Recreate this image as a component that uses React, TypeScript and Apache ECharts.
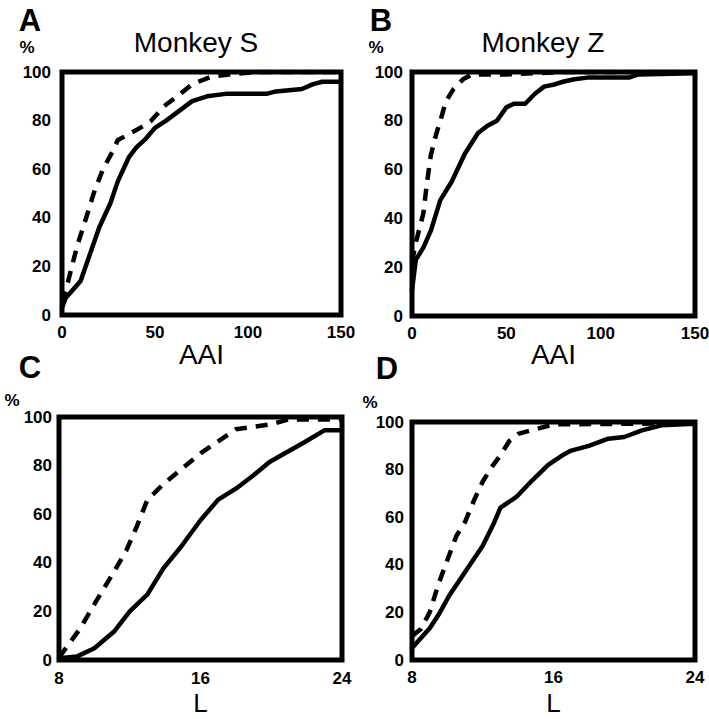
import React, { useEffect, useRef } from "react";
import * as echarts from "echarts";

// Panel A (Monkey S, AAI)
const aSolid: number[][] = [[0,3],[2,7],[10,14],[15,25],[20,36],[26,46],[30,55],[36,65],[40,69],[45,72.5],[50,77],[56,80],[63,84],[70,88],[78,90],[88,91],[110,91],[115,92],[122,92.5],[129,93],[135,95],[140,96],[150,96]];
const aDashed: number[][] = [[0,5],[3,13],[8,28],[13,40],[17,50],[22,60],[27,67],[30,72],[35,74],[42,77],[48,80],[55,86],[62,90],[70,95],[80,98],[90,99],[105,100],[150,100]];
// Panel B (Monkey Z, AAI)
const bSolid: number[][] = [[0,10.5],[2,23],[6,28],[10,35],[15,47.5],[21,55],[28,66.5],[35,75],[40,78],[45,80],[50,85.5],[54,87],[60,87],[65,91],[70,94],[76,95],[80,96],[86,97],[93,97.7],[115,97.7],[120,99],[150,99.5]];
const bDashed: number[][] = [[0,22],[2,30],[4,36],[6,42],[8,55],[10,66],[13,75],[15,80],[18,88],[22,93],[27,97],[32,99],[50,99],[80,100],[150,100]];
// Panel C (Monkey S, L)
const cSolid: number[][] = [[8,0.7],[9,1.4],[10,4.8],[11.1,11.6],[12,20],[13,27],[13.9,37.7],[14.9,46.6],[16,57.5],[17,66],[18,70.5],[19,76],[19.9,81.5],[20.9,85.6],[21.9,89.7],[23,94.5],[24,94.5]];
const cDashed: number[][] = [[8,1],[8.5,6],[9.2,13],[10,23],[11,35],[11.8,45],[12.4,55],[13,66],[14,73],[15,79],[16,85],[17,90],[18,95],[19,96],[20,97],[21,99],[24,99]];
// Panel D (Monkey Z, L)
const dSolid: number[][] = [[8,5],[9,13.3],[9.5,19],[10.1,27],[11,37],[12,48],[12.6,57],[13,64],[13.9,68.5],[14.8,75.5],[15.7,82],[16.5,86],[17,88],[18,90],[19.1,93],[20,93.7],[21,96.5],[22.1,98.6],[24,99.3]];
const dDashed: number[][] = [[8,10],[8.5,13],[9,20],[9.5,32],[10,42],[10.5,52],[11,58],[11.5,67],[12,75],[12.5,81],[13,86],[13.5,92],[14,95],[15,97],[16,99],[24,99.5]];

const panelLetters = ["A", "B", "C", "D"];
const titles = ["Monkey S", "Monkey Z"];
const xNames = ["AAI", "AAI", "L", "L"];

const FONT = "Liberation Sans, Arial, sans-serif";

export default function App() {
  const ref = useRef<HTMLDivElement>(null);
  useEffect(() => {
    if (!ref.current) return;
    const chart = echarts.init(ref.current, undefined, { renderer: "svg" });
    const grids = [
      { left: 62, top: 72, width: 279, height: 243 },
      { left: 412, top: 72, width: 283, height: 244 },
      { left: 59, top: 417, width: 283, height: 243 },
      { left: 412, top: 422, width: 283, height: 238 },
    ];
    const xCfg = [
      { min: 0, max: 150, interval: 50, gap: 25, lm: 9, nf: 28 },
      { min: 0, max: 150, interval: 50, gap: 24, lm: 9, nf: 28 },
      { min: 8, max: 24, interval: 8, gap: 30, lm: 10, nf: 26 },
      { min: 8, max: 24, interval: 8, gap: 30, lm: 9, nf: 26 },
    ];
    const yMargins = [11, 9, 7, 8];
    const solids = [aSolid, bSolid, cSolid, dSolid];
    const dashes = [aDashed, bDashed, cDashed, dDashed];
    const labelStyle = { color: "#000", fontFamily: FONT, fontWeight: "bold" as const, fontSize: 17 };
    const series: any[] = [];
    for (let i = 0; i < 4; i++) {
      series.push({
        type: "line", xAxisIndex: i, yAxisIndex: i, data: solids[i], showSymbol: false,
        lineStyle: { color: "#000", width: 4.5, type: "solid", join: "round", cap: "round" },
        silent: true,
      });
      series.push({
        type: "line", xAxisIndex: i, yAxisIndex: i, data: dashes[i], showSymbol: false,
        lineStyle: { color: "#000", width: 4.5, type: [12, 9], cap: "butt", join: "round" },
        silent: true,
      });
    }
    const letterPos = [[30, 20], [381, 20], [30, 367], [387, 368]];
    const pctPos = [[27, 47], [376, 47], [12, 400], [370, 402]];
    const graphic: any[] = [];
    for (let i = 0; i < 4; i++) {
      graphic.push({
        type: "text", x: letterPos[i][0], y: letterPos[i][1],
        style: { text: panelLetters[i], fontFamily: FONT, fontWeight: "bold", fontSize: 31, fill: "#000", align: "center", verticalAlign: "middle" },
      });
      graphic.push({
        type: "text", x: pctPos[i][0], y: pctPos[i][1],
        style: { text: "%", fontFamily: FONT, fontWeight: "bold", fontSize: 17, fill: "#000", align: "center", verticalAlign: "middle" },
      });
    }
    const titlePos = [[196, 42], [543, 42]];
    for (let i = 0; i < 2; i++) {
      graphic.push({
        type: "text", x: titlePos[i][0], y: titlePos[i][1],
        style: { text: titles[i], fontFamily: FONT, fontSize: 28, fill: "#000", align: "center", verticalAlign: "middle" },
      });
    }
    chart.setOption({
      animation: false,
      backgroundColor: "#fff",
      grid: grids.map((g) => ({ ...g, show: true, borderColor: "#000", borderWidth: 5, backgroundColor: "transparent", containLabel: false, outerBoundsMode: "none" })),
      xAxis: xCfg.map((c, i) => ({
        type: "value", gridIndex: i, min: c.min, max: c.max, interval: c.interval,
        name: xNames[i], nameLocation: "middle", nameGap: c.gap, nameMoveOverlap: false,
        nameTextStyle: { color: "#000", fontFamily: FONT, fontSize: c.nf },
        axisLine: { show: false }, axisTick: { show: false }, splitLine: { show: false },
        axisLabel: { ...labelStyle, margin: c.lm },
      })),
      yAxis: [0, 1, 2, 3].map((i) => ({
        type: "value", gridIndex: i, min: 0, max: 100, interval: 20,
        axisLine: { show: false }, axisTick: { show: false }, splitLine: { show: false },
        axisLabel: { ...labelStyle, margin: yMargins[i] },
      })),
      series,
      graphic,
    });
    return () => chart.dispose();
  }, []);
  return <div ref={ref} style={{ position: "fixed", left: 0, top: 0, width: 709, height: 719 }} />;
}
